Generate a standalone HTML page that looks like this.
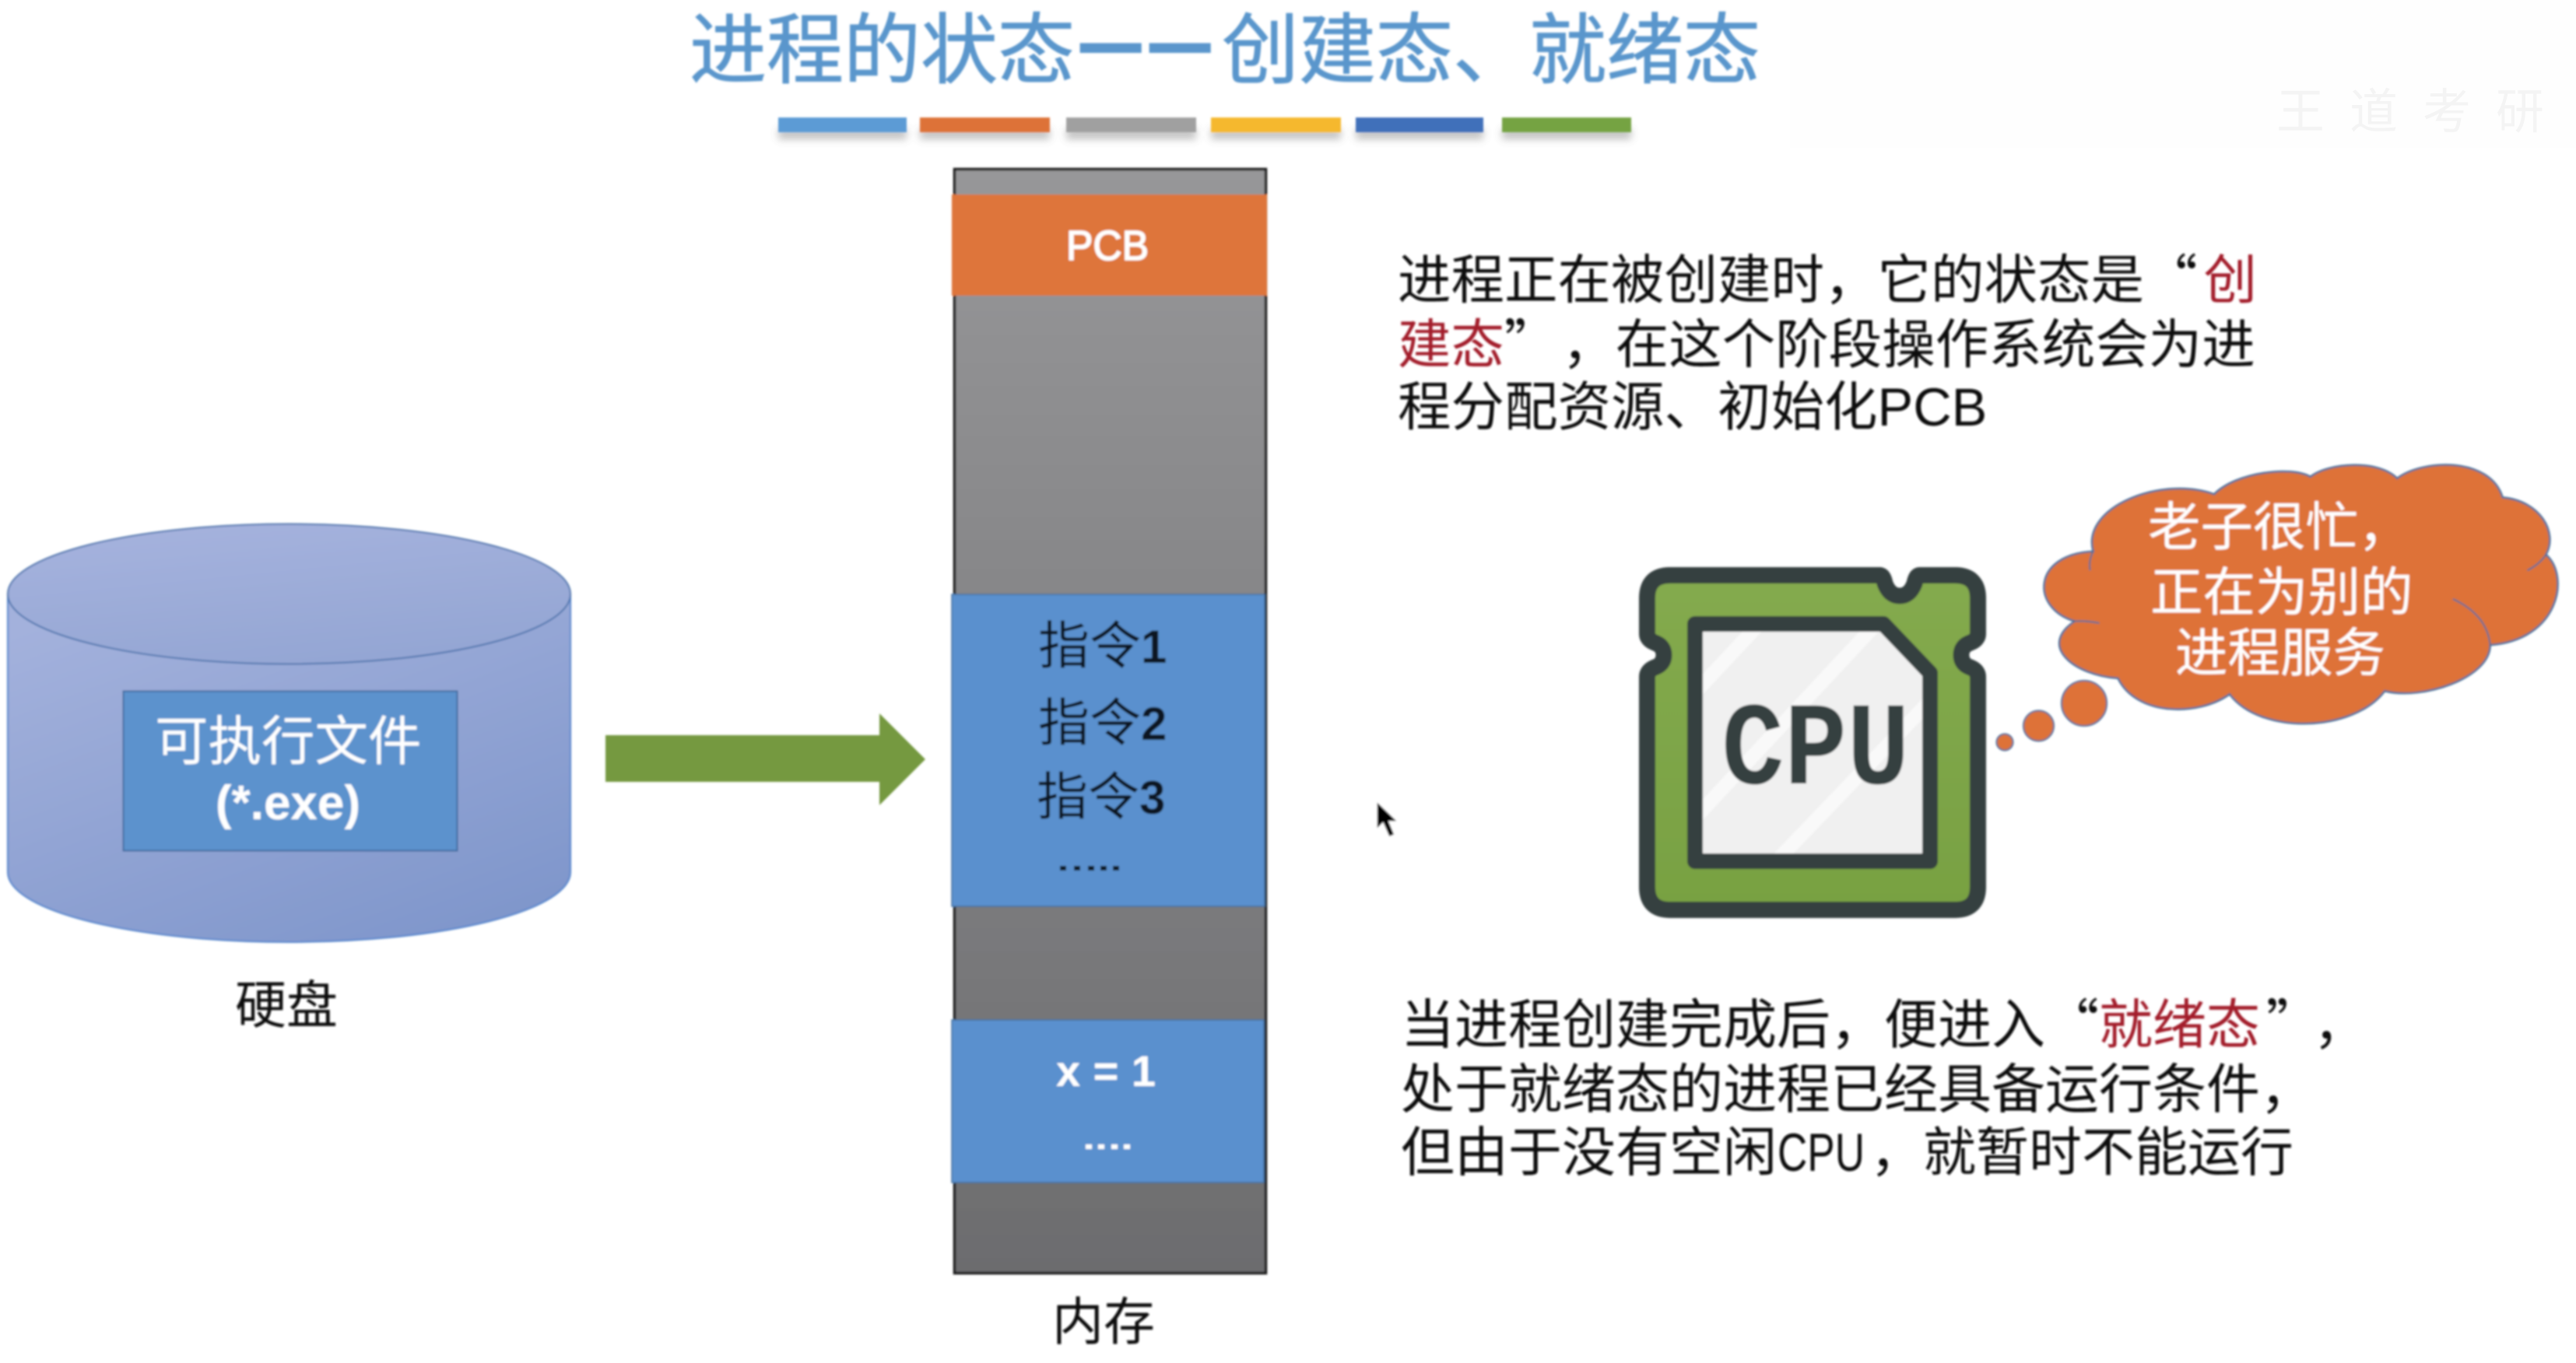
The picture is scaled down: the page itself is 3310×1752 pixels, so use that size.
<!DOCTYPE html>
<html lang="zh-CN">
<head>
<meta charset="utf-8">
<title>进程的状态——创建态、就绪态</title>
<style>
html,body{margin:0;padding:0;background:#fff;width:3310px;height:1752px;overflow:hidden}
svg{display:block;position:absolute;left:0;top:0}
text{font-family:"Noto Sans CJK SC","Liberation Sans",sans-serif}
</style>
</head>
<body>
<svg xmlns="http://www.w3.org/2000/svg" width="3310" height="1752" viewBox="0 0 3310 1752">
<defs>
<linearGradient id="cyl" x1="0.2" y1="0" x2="0.8" y2="1">
<stop offset="0" stop-color="#a3b1dc"/><stop offset="1" stop-color="#7f96cb"/>
</linearGradient>
<linearGradient id="ell" x1="0.3" y1="0" x2="0.7" y2="1">
<stop offset="0" stop-color="#a5b2dd"/><stop offset="1" stop-color="#93a5d3"/>
</linearGradient>
<linearGradient id="mem" x1="0" y1="0" x2="0" y2="1">
<stop offset="0" stop-color="#979799"/><stop offset="1" stop-color="#6c6c6e"/>
</linearGradient>
<linearGradient id="grn" x1="0" y1="0" x2="0" y2="1">
<stop offset="0" stop-color="#84aa4e"/><stop offset="1" stop-color="#78a142"/>
</linearGradient>
<filter id="soft" x="-5%" y="-5%" width="110%" height="110%"><feGaussianBlur stdDeviation="1.3"/></filter>
<filter id="sh" x="-10%" y="-50%" width="120%" height="250%"><feGaussianBlur stdDeviation="5"/></filter>
<clipPath id="chip"><path d="M2178 802H2420L2480 865V1107H2178Z"/></clipPath>
</defs>

<!-- faint watermark -->
<rect x="2300" y="0" width="1010" height="190" fill="#fefefe"/>
<text x="2925" y="165" font-size="62" fill="#f4f4f4" letter-spacing="32">王道考研</text>

<g filter="url(#soft)">
<!-- title -->
<g font-size="99" fill="#5a96cc" stroke="#5a96cc" stroke-width="1">
<text x="886" y="99">进程的状态</text>
<text x="1387" y="87" font-size="90" stroke-width="7">—</text>
<text x="1476" y="87" font-size="90" stroke-width="7">—</text>
<text x="1570" y="99">创建态、</text>
<text x="1965" y="99">就绪态</text>
</g>

<!-- colour bars -->
<g fill="#777" opacity=".45" filter="url(#sh)">
<rect x="1000" y="165" width="165" height="14"/><rect x="1182" y="165" width="167" height="14"/>
<rect x="1370" y="165" width="167" height="14"/><rect x="1556" y="165" width="167" height="14"/>
<rect x="1742" y="165" width="164" height="14"/><rect x="1930" y="165" width="166" height="14"/>
</g>
<rect x="1000" y="151" width="165" height="19" fill="#5b9bd5"/>
<rect x="1182" y="151" width="167" height="19" fill="#dd7238"/>
<rect x="1370" y="151" width="167" height="19" fill="#a0a0a0"/>
<rect x="1556" y="151" width="167" height="19" fill="#f5b82e"/>
<rect x="1742" y="151" width="164" height="19" fill="#3f6fba"/>
<rect x="1930" y="151" width="166" height="19" fill="#74a342"/>

<!-- disk -->
<path d="M10 763.500V1121A361.500 90 0 0 0 733 1121V763.500Z" fill="url(#cyl)" stroke="#5384cc" stroke-width="2"/>
<ellipse cx="371.500" cy="763.500" rx="361.500" ry="90" fill="url(#ell)" stroke="#4d74ad" stroke-width="2"/>
<rect x="158.500" y="888.500" width="429" height="205" fill="#5b92cd" stroke="#3f6a9e" stroke-width="2"/>
<text x="199" y="977" font-size="68.500" fill="#fff">可执行文件</text>
<text x="370" y="1053" font-size="62" fill="#fff" text-anchor="middle" font-weight="bold" style="font-family:'Liberation Sans',sans-serif">(*.exe)</text>
<text x="302" y="1315" font-size="66" fill="#111">硬盘</text>

<!-- arrow -->
<path d="M778 945H1130V917L1189 976L1130 1035V1005H778Z" fill="#74993f"/>

<!-- memory -->
<rect x="1226.500" y="217.500" width="400" height="1419" fill="url(#mem)" stroke="#1a1a1a" stroke-width="3.500"/>
<rect x="1223" y="250" width="405" height="130" fill="#de743b"/>
<text x="1370" y="334" font-size="54" fill="#fff" stroke="#fff" stroke-width="1.500" textLength="106" lengthAdjust="spacingAndGlyphs" style="font-family:'Liberation Sans',sans-serif">PCB</text>
<rect x="1223" y="764" width="402" height="401" fill="#5a90ce" stroke="#44709f" stroke-width="1.500"/>
<g font-size="66" fill="#0d1420">
<text x="1334" y="853">指令<tspan style="font-family:'Liberation Sans',sans-serif" font-weight="bold" font-size="60" dy="-1">1</tspan></text>
<text x="1334" y="952">指令<tspan style="font-family:'Liberation Sans',sans-serif" font-weight="bold" font-size="60" dy="-1">2</tspan></text>
<text x="1332" y="1047">指令<tspan style="font-family:'Liberation Sans',sans-serif" font-weight="bold" font-size="60" dy="-1">3</tspan></text>
</g>
<g fill="#0d1420"><rect x="1362" y="1113" width="8" height="6"/><rect x="1380" y="1113" width="8" height="6"/><rect x="1398" y="1113" width="8" height="6"/><rect x="1414" y="1113" width="8" height="6"/><rect x="1430" y="1113" width="8" height="6"/></g>
<rect x="1223" y="1311" width="401" height="209" fill="#5a90ce" stroke="#44709f" stroke-width="1.500"/>
<text x="1357" y="1396" font-size="56" fill="#fff" font-weight="bold" textLength="128" style="font-family:'Liberation Sans',sans-serif">x = 1</text>
<g fill="#fff"><rect x="1395" y="1471" width="8" height="6"/><rect x="1411" y="1471" width="8" height="6"/><rect x="1428" y="1471" width="8" height="6"/><rect x="1444" y="1471" width="8" height="6"/></g>
<text x="1352" y="1722" font-size="66" fill="#111">内存</text>

<!-- top text -->
<g font-size="68.500" fill="#111">
<text x="1796" y="384">进程正在被创建时，它的状态是“<tspan fill="#a31f2c" dx="8">创</tspan></text>
<text x="1796" y="467"><tspan fill="#a31f2c">建态</tspan>”<tspan dx="40">，</tspan>在这个阶段操作系统会为进</text>
<text x="1796" y="547">程分配资源、初始化<tspan style="font-family:'Liberation Sans',sans-serif">PCB</tspan></text>
</g>
<g font-size="69" fill="#111">
<text x="1800" y="1341">当进程创建完成后，便进入“<tspan fill="#a31f2c">就绪态</tspan><tspan dx="8">”</tspan><tspan dx="26">，</tspan></text>
<text x="1800" y="1424">处于就绪态的进程已经具备运行条件，</text>
<text x="1800" y="1505">但由于没有空闲</text>
<text x="2284" y="1505" textLength="112" lengthAdjust="spacingAndGlyphs" style="font-family:'Liberation Sans',sans-serif">CPU</text>
<text x="2403" y="1505" font-size="68">，就暂时不能运行</text>
</g>

<!-- CPU -->
<path d="M2146 739.500H2415Q2420 739.500 2422 750Q2428 766 2441 766Q2454 766 2460 750Q2462 739.500 2467 739.500H2512Q2541.500 739.500 2541.500 769V815Q2541.500 822 2532 826Q2520 830 2520 842Q2520 854 2532 858Q2541.500 862 2541.500 870V1140Q2541.500 1169.500 2512 1169.500H2146Q2116.500 1169.500 2116.500 1140V870Q2116.500 862 2126 858Q2138 854 2138 842Q2138 830 2126 826Q2116.500 822 2116.500 815V769Q2116.500 739.500 2146 739.500Z" fill="url(#grn)" stroke="#353f40" stroke-width="21" stroke-linejoin="round"/>
<path d="M2178 802H2420L2480 865V1107H2178Z" fill="#f0f0f0"/>
<g clip-path="url(#chip)" stroke="#f9f9f9" stroke-width="18">
<path d="M2150 920L2300 760"/><path d="M2170 1060L2450 760"/><path d="M2270 1120L2500 880"/>
</g>
<path d="M2178 802H2420L2480 865V1107H2178Z" fill="none" stroke="#353f40" stroke-width="20" stroke-linejoin="round"/>
<text x="2212" y="1007" font-size="152" fill="#353f40" font-weight="bold" textLength="242" lengthAdjust="spacingAndGlyphs" style="font-family:'Liberation Mono',monospace">CPU</text>

<!-- thought cloud -->
<g transform="translate(2060,570) scale(.797,.408)" fill="#de7238" stroke="#47709a">
<path vector-effect="non-scaling-stroke" stroke-width="2.500" d="M790 340C770 200 900 100 985 160C1020 90 1110 70 1140 105C1170 60 1250 50 1280 110C1320 50 1430 40 1450 170C1510 180 1540 280 1520 350C1560 420 1540 620 1430 635C1430 740 1320 810 1260 780C1210 910 1060 920 1010 790C960 860 860 860 830 740C760 730 700 640 760 560C690 520 690 350 790 340Z"/>
<path vector-effect="non-scaling-stroke" stroke-width="2" fill="none" d="M1370 490Q1425 540 1430 635M1520 350Q1510 380 1490 400M760 560Q780 558 800 566M790 340Q782 370 785 400"/>
</g>
<circle cx="2678" cy="904" r="29" fill="#de7238" stroke="#47709a" stroke-width="2"/>
<circle cx="2619.500" cy="933" r="19.500" fill="#de7238" stroke="#47709a" stroke-width="2"/>
<circle cx="2576" cy="954" r="10.500" fill="#de7238" stroke="#47709a" stroke-width="2"/>
<g font-size="67.500" fill="#fff">
<text x="2760" y="701">老子很忙，</text>
<text x="2763" y="785">正在为别的</text>
<text x="2795" y="863">进程服务</text>
</g>

<!-- cursor -->
<path d="M1769 1030V1066L1777 1058L1785 1076L1792 1073L1785 1056L1796 1056Z" fill="#000" stroke="#fff" stroke-width="1.500"/>
</g>
</svg>
</body>
</html>
